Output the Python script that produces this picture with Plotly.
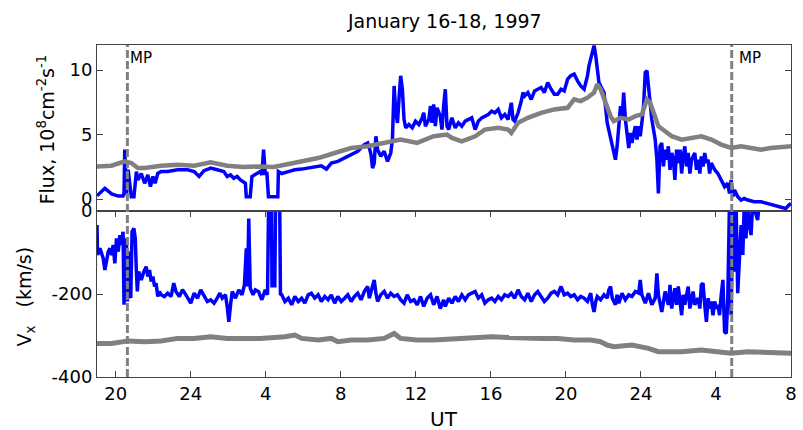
import plotly.graph_objects as go

# ---------------- data (time in hours from Jan 16 00 UT) ----------------
flux_blue_t = [
    19.0, 19.42, 19.78, 20.13, 20.39, 20.44, 20.48, 20.53, 20.57, 20.66,
    20.74, 20.83, 20.97, 21.10, 21.18, 21.36, 21.54, 21.71, 21.85, 21.98,
    22.10, 22.24, 22.42, 22.77, 23.30, 23.83, 24.18, 24.44, 24.71, 25.06,
    25.41, 25.76, 25.94, 26.12, 26.29, 26.47, 26.65, 26.91, 26.96, 27.17,
    27.26, 27.53, 27.70, 27.79, 27.88, 27.97, 28.06, 28.14, 28.64, 28.67,
    28.85, 29.20, 29.55, 29.91, 30.26, 30.61, 30.96, 31.23, 31.49, 31.84,
    32.20, 32.55, 32.90, 33.25, 33.43, 33.52, 33.61, 33.69, 33.78, 33.87,
    33.96, 34.13, 34.31, 34.49, 34.66, 34.75, 34.84, 34.93, 35.02, 35.10,
    35.19, 35.28, 35.37, 35.46, 35.63, 35.81, 35.98, 36.16, 36.34, 36.42,
    36.51, 36.69, 36.78, 36.86, 36.95, 37.04, 37.13, 37.30, 37.39, 37.48,
    37.57, 37.66,
    37.75, 37.92, 38.10, 38.27, 38.45, 38.63, 38.80, 38.98, 39.16, 39.33,
    39.51, 39.68, 39.86, 40.04, 40.21, 40.39, 40.56, 40.74, 40.92, 41.09,
    41.18, 41.27, 41.45, 41.62, 41.71, 41.80, 41.97, 42.15, 42.33, 42.50,
    42.68, 42.85, 43.03, 43.21, 43.38, 43.56, 43.74, 43.91, 44.09, 44.26,
    44.44, 44.62, 44.79, 44.97, 45.15, 45.23, 45.32, 45.41, 45.50, 45.59,
    45.67, 45.76, 45.85, 46.03, 46.20, 46.38, 46.55, 46.64, 46.73,
    46.82, 46.91, 46.99, 47.08, 47.17, 47.26, 47.35, 47.44, 47.52, 47.70,
    47.79, 47.88, 47.96, 48.05, 48.14, 48.23, 48.32, 48.40, 48.49, 48.58,
    48.67, 48.76, 48.85, 48.93, 49.02, 49.11, 49.20, 49.29, 49.37, 49.46,
    49.55, 49.64, 49.73, 49.81, 49.90, 49.99, 50.08, 50.17, 50.25, 50.34,
    50.43, 50.52, 50.61, 50.70, 50.87, 50.96, 51.05, 51.14, 51.22, 51.31,
    51.40, 51.49, 51.58, 51.66, 51.75, 51.93, 52.10, 52.28, 52.46, 52.63,
    52.72, 52.81, 52.90, 52.99, 53.16, 53.34, 53.51, 53.69, 54.04, 54.40,
    54.75, 55.10, 55.45, 55.72, 55.89, 56.0,
]
flux_blue = [
    0.25, 0.83, 0.40, 0.23, 0.23, 0.44, 3.83, 1.98, 0.31, 2.27,
    1.48, 0.18, 0.18, 2.13, 1.48, 1.98, 1.22, 1.87, 0.96, 1.75,
    1.22, 1.98, 2.13, 2.13, 2.27, 2.27, 2.13, 1.75, 2.20, 2.40,
    2.27, 2.13, 1.75, 1.87, 1.61, 1.75, 1.48, 1.22, 0.18, 0.18,
    1.75, 1.98, 2.13, 1.87, 3.83, 1.98, 1.98, 0.18, 0.18, 2.13,
    1.98, 2.13, 2.27, 2.32, 2.40, 2.53, 2.58, 2.32, 2.79, 2.92,
    3.18, 3.44, 3.70, 4.22, 4.35, 3.96, 3.44, 2.40, 2.79, 4.87,
    3.83, 3.31, 3.70, 2.92, 3.57, 4.61, 8.77, 6.69, 5.91, 7.73,
    9.56, 8.52, 6.17, 5.52, 5.78, 5.52, 6.04, 5.78, 6.30, 6.69,
    5.65, 6.17, 7.21, 5.91, 7.34, 5.65, 7.08, 6.43, 5.39, 7.21,
    8.52, 5.65,
    5.39, 6.30, 5.52, 5.91, 5.65, 6.04, 6.17, 6.30, 5.39, 6.04,
    6.30, 6.43, 6.56, 6.82, 6.69, 6.95, 6.30, 6.56, 6.17, 7.47,
    6.17, 6.04, 6.69, 7.60, 8.26, 8.00, 8.26, 7.73, 8.39, 8.52,
    8.65, 8.26, 9.04, 8.52, 8.13, 8.13, 8.52, 8.39, 9.30, 9.56,
    9.69, 9.17, 8.77, 8.52, 9.56, 10.34, 10.86, 11.38, 11.90, 11.12,
    10.34, 9.04, 8.77, 8.26, 5.91, 4.61, 3.57, 3.05, 4.09,
    6.17, 7.21, 6.17, 8.26, 6.17, 5.13, 3.96, 5.13, 4.35, 5.65,
    4.61, 5.65, 4.87, 5.91, 7.21, 9.82, 9.95, 8.77, 7.21, 6.17,
    5.39, 4.61, 3.05, 0.44, 4.09, 4.35, 2.53, 3.83, 3.05, 4.09,
    2.27, 3.57, 3.05, 1.48, 3.83, 2.79, 3.83, 1.98, 3.31, 4.09,
    2.53, 3.57, 1.98, 3.05, 3.57, 2.27, 3.05, 1.98, 3.31, 2.53,
    3.57, 2.79, 3.05, 1.98, 2.79, 2.27, 1.98, 1.48, 0.96, 1.22,
    0.44, 1.48, 0.18, 0.70, 0.18, -0.08, 0.05, -0.08, -0.21, -0.21,
    -0.34, -0.47, -0.60, -0.73, -0.47, -0.34,
]

flux_gray_t = [
    19.0, 19.77, 20.48, 20.83, 21.18, 21.54, 22.42, 23.30, 24.18, 25.06,
    25.94, 26.82, 27.70, 28.41, 29.02, 29.91, 30.79, 31.67, 32.55, 33.43,
    34.31, 35.19, 36.07, 36.95, 37.66, 37.92, 38.45, 39.16, 39.68, 40.39,
    40.92, 41.09, 41.45, 41.97, 42.68, 43.38, 44.09, 44.44, 44.79, 45.15,
    45.50, 45.67, 45.85, 46.03, 46.20, 46.38, 46.55, 46.91, 47.35, 47.70,
    48.05, 48.32, 48.49, 48.76, 48.93, 49.29, 49.64, 50.17, 50.70, 51.22,
    51.75, 52.28, 52.81, 53.34, 53.87, 54.40, 54.92, 55.45, 56.0,
]
flux_gray = [
    2.53, 2.58, 2.92, 2.79, 2.40, 2.40, 2.58, 2.66, 2.58, 2.84,
    2.58, 2.48, 2.53, 2.48, 2.66, 2.92, 3.18, 3.57, 3.96, 4.09,
    4.35, 4.61, 4.35, 4.87, 5.00, 4.74, 4.48, 4.87, 5.39, 5.52,
    5.39, 5.13, 5.91, 6.30, 6.69, 6.95, 7.08, 7.73, 7.60, 7.86,
    8.26, 8.91, 8.52, 7.73, 6.95, 6.43, 6.04, 6.30, 6.17, 6.43,
    6.56, 7.73, 7.47, 6.43, 5.65, 5.26, 4.87, 4.61, 4.74, 4.87,
    4.61, 4.22, 3.96, 4.09, 3.96, 3.83, 3.96, 4.04, 4.09,
]

vx_blue_t = [
    19.0, 19.03, 19.16, 19.33, 19.42, 19.51, 19.60, 19.69, 19.78, 19.86,
    19.95, 20.04, 20.13, 20.22, 20.30, 20.39, 20.44, 20.52, 20.57, 20.62,
    20.69, 20.80, 20.87, 20.97, 21.04, 21.10, 21.15, 21.22, 21.36, 21.50,
    21.62, 21.71, 21.80, 21.89, 21.98, 22.07, 22.15, 22.24, 22.33, 22.42,
    22.59, 22.77, 22.95, 23.09, 23.21, 23.39, 23.56, 23.74, 23.92, 24.00,
    24.18, 24.36, 24.53, 24.71, 24.88, 25.06, 25.24, 25.41, 25.55, 25.68,
    25.85, 25.94, 26.03, 26.12, 26.21, 26.38, 26.56, 26.73, 26.86, 26.96,
    27.03, 27.09, 27.14, 27.17, 27.32, 27.44, 27.61, 27.79, 27.97, 28.09,
    28.15, 28.30, 28.33, 28.48, 28.52, 28.74, 28.78,
    28.85, 29.02, 29.20, 29.38, 29.55, 29.73, 29.91, 30.08, 30.26, 30.43,
    30.61, 30.79, 30.96, 31.14, 31.32, 31.49, 31.67, 31.84, 32.02, 32.20,
    32.37, 32.55, 32.72, 32.90, 33.08, 33.25, 33.43, 33.52, 33.61, 33.78,
    33.87, 33.96, 34.13, 34.31, 34.49, 34.66, 34.84, 35.02, 35.19, 35.37,
    35.54, 35.72, 35.90, 36.07, 36.25, 36.42, 36.60, 36.78, 36.95, 37.13,
    37.30, 37.48,
    37.57, 37.75, 37.92, 38.10, 38.27, 38.45, 38.63, 38.80, 38.98, 39.16,
    39.33, 39.51, 39.68, 39.86, 40.04, 40.21, 40.39, 40.56, 40.74, 40.92,
    41.09, 41.27, 41.45, 41.62, 41.80, 41.97, 42.15, 42.33, 42.50, 42.68,
    42.85, 43.03, 43.21, 43.38, 43.56, 43.74, 43.91, 44.09, 44.26, 44.44,
    44.62, 44.79, 44.97, 45.15, 45.32, 45.41, 45.50, 45.59, 45.67, 45.85,
    46.03, 46.20, 46.29, 46.38, 46.47, 46.64, 46.73,
    46.82, 46.99, 47.17, 47.35, 47.52, 47.70, 47.88, 47.96, 48.05, 48.23,
    48.40, 48.58, 48.76, 48.85, 48.93, 49.11, 49.29, 49.46, 49.55, 49.64,
    49.81, 49.90, 49.99, 50.17, 50.25, 50.34, 50.52, 50.61, 50.78, 50.87,
    51.05, 51.14, 51.22, 51.31, 51.40, 51.49, 51.58, 51.66, 51.75, 51.84,
    51.93, 52.02, 52.10, 52.19, 52.28, 52.37, 52.46, 52.55, 52.63, 52.72,
    52.81, 52.90, 52.99, 53.07, 53.16, 53.25, 53.34, 53.43, 53.51, 53.60,
    53.69, 53.78, 53.87, 53.96, 54.22, 54.31, 55.0, 56.0,
]
vx_blue = [
    -34, -106, -90, -114, -142, -122, -98, -90, -106, -82,
    -126, -66, -98, -58, -82, -50, -226, -146, -66, -218,
    -98, -210, -50, -42, -66, -146, -194, -146, -166, -146,
    -134, -158, -142, -170, -158, -182, -174, -206, -194, -202,
    -206, -198, -206, -174, -194, -206, -190, -202, -214, -222,
    -198, -210, -190, -206, -218, -214, -222, -210, -198, -210,
    -202, -230, -267, -226, -194, -210, -190, -202, -178, -90,
    -182, -18, -106, -186, -202, -190, -194, -214, -190, -202,
    20, 20, -180, -180, 20, 20, -200,
    -202, -218, -210, -226, -206, -218, -210, -222, -202, -198,
    -210, -202, -218, -206, -214, -202, -222, -206, -218, -210,
    -202, -218, -206, -198, -214, -194, -182, -210, -194, -166,
    -198, -218, -202, -194, -210, -198, -206, -202, -214, -222,
    -202, -218, -214, -226, -206, -230, -210, -202, -226, -206,
    -235, -214,
    -230, -210, -222, -206, -218, -202, -214, -202, -198, -194,
    -210, -202, -222, -214, -210, -218, -206, -214, -202, -206,
    -198, -210, -190, -206, -214, -198, -218, -202, -194, -206,
    -218, -210, -198, -194, -202, -182, -202, -198, -206, -202,
    -214, -206, -210, -218, -198, -226, -243, -218, -206, -214,
    -202, -210, -190, -182, -210, -226, -202,
    -222, -198, -214, -202, -206, -194, -198, -166, -202, -222,
    -198, -226, -210, -150, -202, -243, -194, -226, -178, -235,
    -186, -226, -182, -251, -202, -226, -182, -235, -194, -226,
    -210, -235, -178, -174, -226, -267, -210, -235, -218, -251,
    -218, -235, -226, -251, -202, -166, -291, -295, -210, 20,
    -251, 20, -146, 20, -198, -90, -34, -106, 20, -66,
    20, -34, -58, 20, -22, 20, 30, 30,
]

vx_gray_t = [
    19.0, 19.78, 20.66, 21.54, 22.42, 23.30, 24.18, 25.06, 25.94, 26.82,
    27.70, 29.02, 29.55, 29.91, 30.79, 31.49, 31.84, 32.55, 33.43, 34.31,
    34.84, 35.19, 36.07, 36.95, 38.27, 39.16, 40.04, 40.92, 41.80, 42.68,
    43.56, 44.44, 45.32, 45.85, 46.20, 46.55, 47.52, 48.40, 48.93, 50.17,
    51.22, 51.93, 52.81, 53.69, 54.57, 56.0,
]
vx_gray = [
    -319, -319, -313, -315, -313, -307, -307, -303, -307, -307,
    -307, -303, -299, -307, -311, -307, -315, -311, -311, -307,
    -295, -307, -311, -311, -307, -303, -303, -305, -307, -307,
    -307, -311, -311, -315, -323, -327, -323, -331, -339, -339,
    -335, -339, -343, -339, -341, -343,
]

x_tickvals = [20, 24, 28, 32, 36, 40, 44, 48, 52, 56]
x_ticktext = ["20", "24", "4", "8", "12", "16", "20", "24", "4", "8"]
flux_ticks = [0, 5, 10]
vx_ticks = [-400, -200, 0]
vx_ticktext = ["-400", "-200", "0"]
mp_times = [20.62, 52.84]

BLUE = "rgb(0,0,255)"
GRAY = "rgb(128,128,128)"
FONT = "DejaVu Sans, Verdana, sans-serif"
AX = "#444444"

fig = go.Figure()
fig.add_trace(go.Scatter(x=flux_blue_t, y=flux_blue, mode="lines",
                         line=dict(color=BLUE, width=3.5), xaxis="x2", yaxis="y"))
fig.add_trace(go.Scatter(x=flux_gray_t, y=flux_gray, mode="lines",
                         line=dict(color=GRAY, width=4.5), xaxis="x2", yaxis="y"))
fig.add_trace(go.Scatter(x=vx_blue_t, y=vx_blue, mode="lines",
                         line=dict(color=BLUE, width=3.5), xaxis="x", yaxis="y2"))
fig.add_trace(go.Scatter(x=vx_gray_t, y=vx_gray, mode="lines",
                         line=dict(color=GRAY, width=5), xaxis="x", yaxis="y2"))

for t in mp_times:
    fig.add_shape(type="line", xref="x", yref="paper", x0=t, x1=t, y0=0, y1=1,
                  line=dict(color=GRAY, width=3, dash="8px,3px"), layer="above")

annotations = []
for t, sh in zip(mp_times, [1, 5]):
    annotations.append(dict(x=t, y=0.961, xref="x", yref="paper", text="MP",
                            showarrow=False, xanchor="left", yanchor="middle",
                            xshift=sh, font=dict(size=15, family=FONT, color="black")))
annotations += [
    dict(x=0.5, y=1.072, xref="paper", yref="paper", text="January 16-18, 1997",
         showarrow=False, xanchor="center", yanchor="middle",
         font=dict(size=19, family=FONT, color="black")),
    dict(x=0.5, y=-0.1265, xref="paper", yref="paper", text="UT",
         showarrow=False, xanchor="center", yanchor="middle",
         font=dict(size=20, family=FONT, color="black")),
    dict(x=-0.073, y=0.747, xref="paper", yref="paper",
         text="Flux, 10<sup>8</sup>cm<sup>-2</sup>s<sup>-1</sup>",
         showarrow=False, textangle=-90, xanchor="center", yanchor="middle",
         font=dict(size=19, family=FONT, color="black")),
    dict(x=-0.103, y=0.241, xref="paper", yref="paper",
         text="V<sub>x</sub>\u00a0\u00a0\u00a0(km/s)",
         showarrow=False, textangle=-90, xanchor="center", yanchor="middle",
         font=dict(size=19, family=FONT, color="black")),
]

axis_common = dict(showline=True, linecolor=AX, linewidth=1, showgrid=False,
                   zeroline=False, ticks="inside", ticklen=6, tickcolor=AX,
                   tickfont=dict(size=18, family=FONT, color="black"))

fig.update_layout(
    width=803, height=430,
    margin=dict(l=97, r=6, t=45, b=53),
    paper_bgcolor="white", plot_bgcolor="white",
    showlegend=False,
    xaxis=dict(domain=[0, 1], anchor="y2", range=[19, 56], tickvals=x_tickvals,
               ticktext=x_ticktext, mirror="ticks", **axis_common),
    xaxis2=dict(domain=[0, 1], anchor="y", range=[19, 56], matches="x",
                showline=True, linecolor=AX, linewidth=1, mirror=True,
                showgrid=False, zeroline=False, showticklabels=False, ticks=""),
    yaxis=dict(domain=[0.5, 1], anchor="x2", range=[-0.93, 11.95],
               tickvals=flux_ticks, mirror="ticks", **axis_common),
    yaxis2=dict(domain=[0, 0.5], anchor="x", range=[-400, 0],
                tickvals=vx_ticks, ticktext=vx_ticktext, mirror="ticks", **axis_common),
    annotations=annotations,
)

fig.write_html("out.html")
